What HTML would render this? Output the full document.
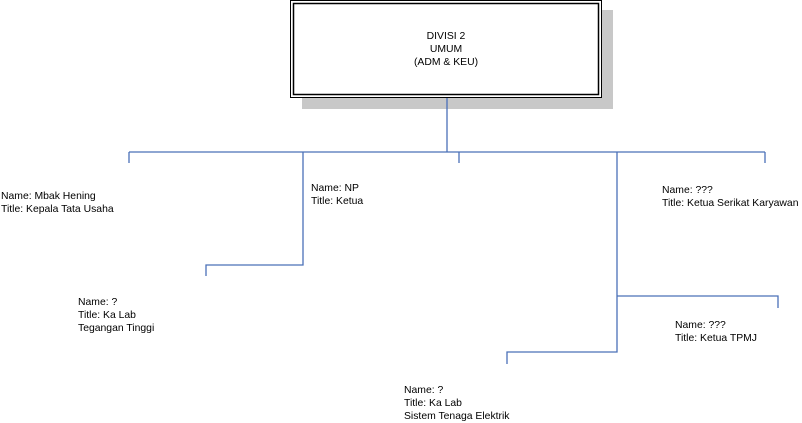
<!DOCTYPE html>
<html><head><style>
html,body{margin:0;padding:0;background:#fff;width:802px;height:423px;overflow:hidden;position:relative;font-family:"Liberation Sans",Arial,sans-serif;}
.t{position:absolute;font-size:10.4px;line-height:13px;color:#000;white-space:nowrap;}
</style></head><body>
<svg width="802" height="423" style="position:absolute;left:0;top:0">
<rect x="302" y="10" width="311" height="99" fill="#c8c8c8"/>
<rect x="290.5" y="0.5" width="311" height="97" fill="#fff" stroke="#000" stroke-width="1"/>
<rect x="293.5" y="3.5" width="305" height="91" fill="none" stroke="#000" stroke-width="1.5"/>
<g stroke="#4a70b8" stroke-width="1.3" fill="none">
<path d="M447 98V152"/>
<path d="M129 152H765"/>
<path d="M129 152V163M459 152V163M765 152V163"/>
<path d="M303 152V265H206V276"/>
<path d="M617 152V352H507V364"/>
<path d="M617 296H778V308"/>
</g>
</svg>
<div class="t" style="left:290px;top:30px;width:312px;text-align:center">DIVISI 2<br>UMUM<br>(ADM &amp; KEU)</div>
<div class="t" style="left:1px;top:190px">Name: Mbak Hening<br>Title: Kepala Tata Usaha</div>
<div class="t" style="left:311px;top:182px">Name: NP<br>Title: Ketua</div>
<div class="t" style="left:662px;top:184px">Name: ???<br>Title: Ketua Serikat Karyawan</div>
<div class="t" style="left:78px;top:296px">Name: ?<br>Title: Ka Lab<br>Tegangan Tinggi</div>
<div class="t" style="left:675px;top:319px">Name: ???<br>Title: Ketua TPMJ</div>
<div class="t" style="left:404px;top:384px">Name: ?<br>Title: Ka Lab<br>Sistem Tenaga Elektrik</div>
</body></html>
